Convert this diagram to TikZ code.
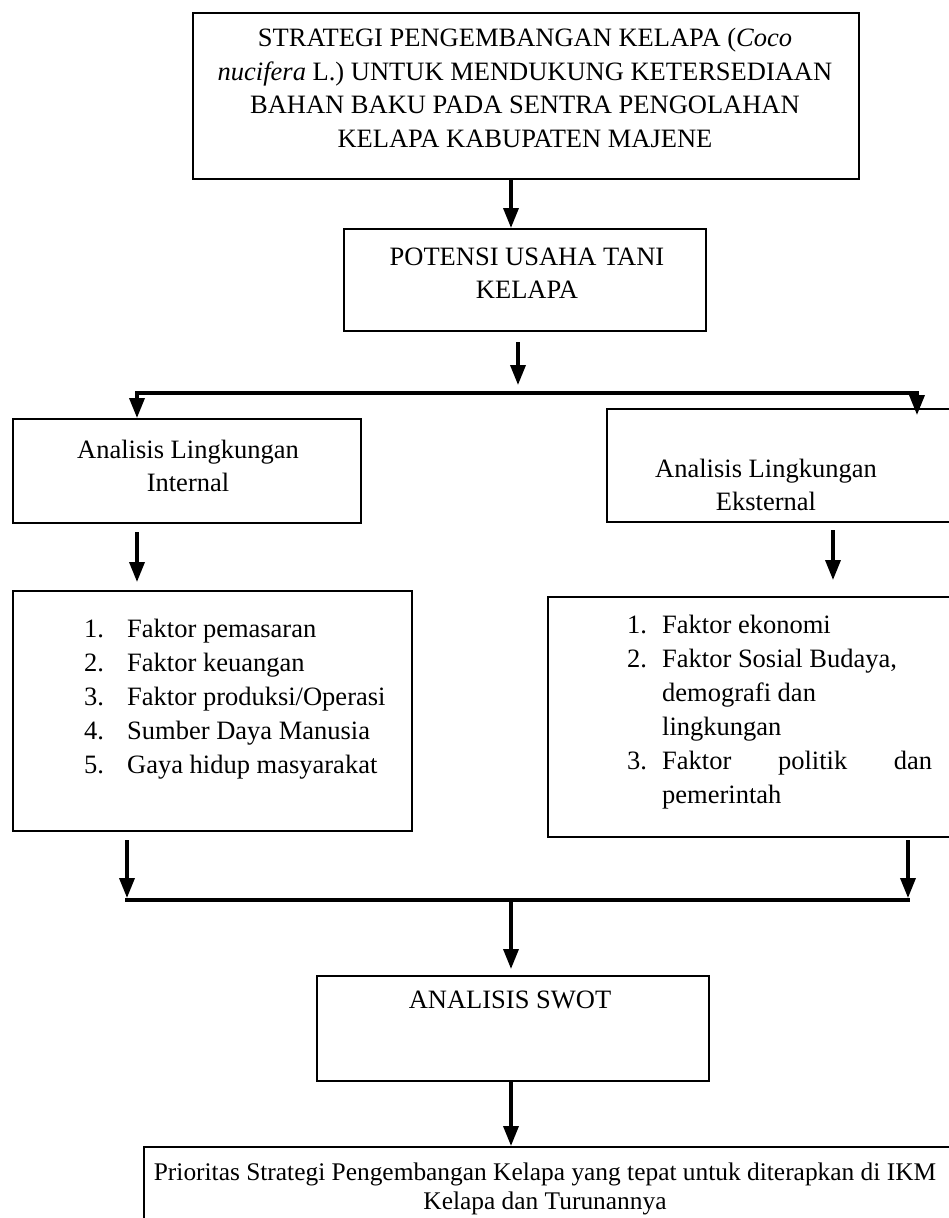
\documentclass[tikz,border=0pt]{standalone}
\usepackage{fontspec}
\setmainfont{Liberation Serif}
\usetikzlibrary{arrows.meta,calc,positioning}

\begin{document}
\begin{tikzpicture}[x=1pt,y=-1pt,
  kotak/.style={draw, line width=2.2pt, inner sep=0pt, anchor=north west},
  teks/.style={align=center, inner sep=0pt, font=\fontsize{26.5}{33.5}\selectfont},
  daftar/.style={align=left, inner sep=0pt, anchor=west, font=\fontsize{26.5}{34}\selectfont},
  panah/.style={-{Triangle[length=20pt,width=15pt]}, line width=3.5pt},
  garis/.style={line width=4pt, line cap=rect}]
  \clip (0,0) rectangle (949,1218);

  % kotak-kotak
  \node[kotak, minimum width=666, minimum height=166] (judul) at (192,12) {};
  \node[kotak, minimum width=362, minimum height=102] (potensi) at (343,228) {};
  \node[kotak, minimum width=348, minimum height=104] (internal) at (12,418) {};
  \node[kotak, minimum width=420, minimum height=113] (eksternal) at (606,408) {};
  \node[kotak, minimum width=399, minimum height=240] (faktorint) at (12,590) {};
  \node[kotak, minimum width=440, minimum height=240] (faktoreks) at (547,596) {};
  \node[kotak, minimum width=392, minimum height=105] (swot) at (316,975) {};
  \node[kotak, minimum width=850, minimum height=120] (prioritas) at (143,1146) {};

  % isi teks
  \node[teks] (tjudul) at (525,88) {STRATEGI PENGEMBANGAN KELAPA (\textit{Coco}\\
    \textit{nucifera} L.) UNTUK MENDUKUNG KETERSEDIAAN\\
    BAHAN BAKU PADA SENTRA PENGOLAHAN\\
    KELAPA KABUPATEN MAJENE};
  \node[teks] (tpotensi) at (527,273) {POTENSI USAHA TANI\\KELAPA};
  \node[teks] (tinternal) at (188,466) {Analisis Lingkungan\\Internal};
  \node[teks] (teksternal) at (766,485) {Analisis Lingkungan\\Eksternal};
  \node[daftar] (tfaktorint) at (84,699) {%
    \makebox[43pt][l]{1.}Faktor pemasaran\\
    \makebox[43pt][l]{2.}Faktor keuangan\\
    \makebox[43pt][l]{3.}Faktor produksi/Operasi\\
    \makebox[43pt][l]{4.}Sumber Daya Manusia\\
    \makebox[43pt][l]{5.}Gaya hidup masyarakat};
  \node[daftar] (tfaktoreks) at (627,712) {%
    \makebox[35pt][l]{1.}Faktor ekonomi\\
    \makebox[35pt][l]{2.}Faktor Sosial Budaya,\\
    \hspace*{35pt}demografi dan\\
    \hspace*{35pt}lingkungan\\
    \makebox[35pt][l]{3.}\hbox to 270pt{Faktor\hfill politik\hfill dan}\\
    \hspace*{35pt}pemerintah};
  \node[teks] (tswot) at (510,1000) {ANALISIS SWOT};
  \node[teks, font=\fontsize{25.4}{29}\selectfont] (tprioritas) at (545,1189)
    {Prioritas Strategi Pengembangan Kelapa yang tepat untuk diterapkan di IKM\\
    Kelapa dan Turunannya};

  % titik bantu
  \coordinate (tengah) at (511,0);
  \coordinate (tengah2) at (518,0);
  \coordinate (cabangkiri) at (137,393);
  \coordinate (cabangkanan) at (917,393);
  \coordinate (gabungkiri) at (127,900);
  \coordinate (gabungkanan) at (908,900);
  \coordinate (kanan2) at (833,0);

  % panah
  \draw[panah] (judul.south -| tengah) -- (potensi.north -| tengah);
  \draw[panah, shorten <=10pt, shorten >=8pt] (potensi.south -| tengah2) -- (cabangkiri -| tengah2);
  \draw[garis] (cabangkiri) -- (cabangkanan);
  \draw[panah] (cabangkiri) -- (internal.north -| cabangkiri);
  \draw[panah, shorten >=-7pt] (cabangkanan) -- (eksternal.north -| cabangkanan);
  \draw[panah, shorten <=8pt, shorten >=8pt] (internal.south -| cabangkiri) -- (faktorint.north -| cabangkiri);
  \draw[panah, shorten <=7pt, shorten >=16pt] (eksternal.south -| kanan2) -- (faktoreks.north -| kanan2);
  \draw[panah, shorten <=8pt, shorten >=2pt] (faktorint.south -| gabungkiri) -- (gabungkiri);
  \draw[panah, shorten <=2pt, shorten >=2pt] (faktoreks.south -| gabungkanan) -- (gabungkanan);
  \draw[garis] (gabungkiri) -- (gabungkanan);
  \draw[panah, shorten <=2pt, shorten >=6pt] (gabungkiri -| tengah) -- (swot.north -| tengah);
  \draw[panah] (swot.south -| tengah) -- (prioritas.north -| tengah);
\end{tikzpicture}
\end{document}
